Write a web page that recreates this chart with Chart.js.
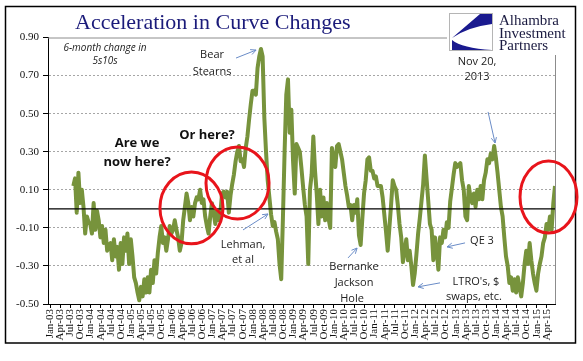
<!DOCTYPE html>
<html>
<head>
<meta charset="utf-8">
<script src="https://cdn.jsdelivr.net/npm/chart.js@4.4.1/dist/chart.umd.min.js"></script>
<style>
	html, body { margin: 0; padding: 0; background: #fff; }
	#wrap { width: 583px; height: 361px; position: relative; }
</style>
</head>
<body>
<div id="wrap"><canvas id="curve_chart" width="583" height="361"></canvas></div>
<script>
// quarter tick labels Jan-03 .. Apr-15
const months = ['Jan', 'Apr', 'Jul', 'Oct'];
const years = ['03','04','05','06','07','08','09','10','11','12','13','14','15'];
const quarterLabels = [];
years.forEach((y)=>{ months.forEach((m)=>{ if (quarterLabels.length < 50) quarterLabels.push(`${m}-${y}`) }) });

const yTicks = [-0.5, -0.3, -0.1, 0.1, 0.3, 0.5, 0.7, 0.9];

// 6-month change in 5s10s, semi-monthly readings from mid 2003
const firstQuarter = 2.3;      // position on the quarter axis of the first reading
const halfMonth = 1 / 6;       // one reading every half month
const spread2003 = [
	0.12, 0.16, -0.02, 0.19, 0.03, 0.10, 0.01, -0.13, -0.04, -0.07,
	-0.08, -0.13, 0.03, -0.11, -0.01, -0.06, -0.15, -0.09, -0.18, -0.11,
	-0.22, -0.19, -0.18, -0.27, -0.16, -0.25, -0.20, -0.32, -0.18, -0.29,
	-0.15, -0.22, -0.13, -0.29, -0.16, -0.25, -0.36, -0.39, -0.44, -0.48
];
const spread2005 = [
	-0.41, -0.46, -0.37, -0.44, -0.36, -0.44, -0.32, -0.39, -0.27, -0.34,
	-0.23, -0.15, -0.09, -0.18, -0.15, -0.22, -0.16, -0.09, -0.13, -0.11,
	-0.06, -0.11, -0.15, -0.22, -0.18, -0.06, 0.01, 0.08, 0.03, -0.06,
	0.01, -0.04, 0.03, 0.06, 0.05, 0.10, 0.03, 0.05, -0.04, -0.09,
	-0.13, -0.04, 0.03, -0.02, -0.08, -0.01, -0.06, -0.02
];
const spread2007 = [
	0.08, 0.09, 0.06, 0.09, -0.02, 0.07, 0.13, 0.18, 0.25, 0.30,
	0.33, 0.25, 0.26, 0.22, 0.32, 0.38, 0.47, 0.55, 0.62, 0.62,
	0.60, 0.74, 0.80, 0.84, 0.80, 0.48, 0.30, 0.15, 0.06, -0.03,
	-0.09, -0.07, -0.12, -0.16, -0.29, -0.37, -0.05, 0.30, 0.60, 0.68,
	0.40, 0.52, 0.25, 0.08, 0.34, 0.32, 0.30
];
const spread2009 = [
	0.21, 0.11, 0.02, -0.04, -0.29, 0.10, 0.18, 0.38, 0.20, 0.08,
	-0.08, 0.10, -0.04, 0.06, -0.06, 0.03, -0.05, -0.10, 0.32, 0.26,
	0.22, 0.33, 0.34, 0.30, 0.26, 0.19, 0.12, 0.07, 0.01, 0.02,
	-0.06, 0.02, -0.02, 0.05, -0.14, -0.19, -0.05, 0.08, 0.15, 0.26,
	0.27, 0.20, 0.20, 0.16, 0.17, 0.12, 0.12
];
const spread2011 = [
	0.12, 0.06, -0.03, -0.12, -0.22, -0.10, 0.02, 0.15, 0.12, 0.10,
	0.02, -0.08, -0.15, -0.28, -0.22, -0.16, -0.27, -0.22, -0.30, -0.40,
	-0.34, -0.24, -0.13, -0.05, 0.04, 0.13, 0.28, 0.16, 0.04, -0.08,
	-0.11, -0.27, -0.15, -0.22, -0.32, -0.15, -0.18, -0.11, -0.15, -0.07,
	-0.10, 0.04, 0.11, 0.18, 0.24, 0.22, 0.23
];
const spread2013 = [
	0.24, 0.15, 0.10, -0.04, -0.06, 0.12, 0.06, 0.03, 0.08, 0.01,
	0.10, 0.05, 0.12, 0.05, 0.15, 0.19, 0.26, 0.24, 0.29, 0.26,
	0.33, 0.27, 0.19, 0.10, 0.01, -0.04, -0.15, -0.25, -0.30,
	-0.39, -0.36, -0.43, -0.37, -0.44, -0.36, -0.41, -0.46, -0.39, -0.29,
	-0.22, -0.29, -0.18, -0.27, -0.34, -0.39, -0.43, -0.34, -0.29, -0.25,
	-0.18, -0.15, -0.08, -0.11, -0.04, -0.11, 0.03, 0.12
];
const spread = [].concat(spread2003, spread2005, spread2007, spread2009, spread2011, spread2013);

// notes placed in data units: [quarter, value]
const notes = [
	{ text: '6-month change in', at: [5.42, 0.845], font: 'italic 10px "Open Sans"' },
	{ text: '5s10s', at: [5.42, 0.777], font: 'italic 10px "Open Sans"' },
	{ text: 'Bear', at: [15.98, 0.808] },
	{ text: 'Stearns', at: [15.98, 0.719] },
	{ text: 'Nov 20,', at: [42.11, 0.771] },
	{ text: '2013', at: [42.11, 0.693] },
	{ text: 'Are we', at: [8.58, 0.346], font: 'bold 13px "Open Sans"' },
	{ text: 'now here?', at: [8.58, 0.246], font: 'bold 13px "Open Sans"' },
	{ text: 'Or here?', at: [15.48, 0.388], font: 'bold 13px "Open Sans"' },
	{ text: 'Lehman,', at: [19.03, -0.190] },
	{ text: 'et al', at: [19.03, -0.269] },
	{ text: 'Bernanke', at: [29.98, -0.305] },
	{ text: 'Jackson', at: [29.98, -0.389] },
	{ text: 'Hole', at: [29.78, -0.473] },
	{ text: 'QE 3', at: [42.60, -0.169] },
	{ text: "LTRO's, $", at: [42.01, -0.384] },
	{ text: 'swaps, etc.', at: [41.81, -0.463] }
];
const arrows = [
	[[18.34, 0.792], [20.32, 0.834]],
	[[43.20, 0.509], [43.89, 0.346]],
	[[19.03, -0.111], [21.50, -0.027]],
	[[29.39, -0.258], [30.28, -0.206]],
	[[40.93, -0.179], [39.15, -0.200]],
	[[38.46, -0.389], [36.29, -0.410]]
];
// red rings: centre [quarter, value], radius in quarters / value
const rings = [
	{ at: [13.95, 0.005], rq: 3.11, rv: 0.189 },
	{ at: [18.49, 0.136], rq: 3.11, rv: 0.189 },
	{ at: [49.16, 0.062], rq: 2.81, rv: 0.189 }
];

let decor = {
	id: 'decor',
	afterDatasetsDraw: function(chart){
		let c = chart.ctx, a = chart.chartArea;
		let y0 = chart.scales.y.getPixelForValue(0);
		c.save();
		c.strokeStyle = '#000';
		c.lineWidth = 1.3;
		c.beginPath(); c.moveTo(a.left, y0); c.lineTo(a.right, y0); c.stroke();
		// plot border top / right
		c.strokeStyle = '#8c8c8c';
		c.lineWidth = 1;
		c.beginPath();
		c.moveTo(a.left, a.top + 0.5); c.lineTo(a.right + 0.5, a.top + 0.5); c.lineTo(a.right + 0.5, a.bottom);
		c.stroke();
		c.restore();
	},
	afterDraw: function(chart){
		let c = chart.ctx;
		let sx = chart.scales.x, sy = chart.scales.y;
		let px = (p) => [sx.getPixelForValue(p[0]), sy.getPixelForValue(p[1])];
		c.save();
		// title
		c.fillStyle = '#1b1b7a';
		c.font = '22px "Liberation Serif"';
		c.textAlign = 'left';
		c.textBaseline = 'alphabetic';
		c.fillText('Acceleration in Curve Changes', 75, 29);
		// logo
		c.fillStyle = '#fff';
		c.fillRect(447, 9, 124, 46);
		c.strokeStyle = '#b5b5b5';
		c.lineWidth = 1;
		c.strokeRect(449.5, 13.5, 43, 37);
		c.fillStyle = '#1a1a8f';
		c.beginPath();
		c.moveTo(480, 14); c.lineTo(492, 14); c.lineTo(492, 24);
		c.quadraticCurveTo(468, 27, 452, 38);
		c.closePath(); c.fill();
		c.beginPath();
		c.moveTo(452, 40); c.quadraticCurveTo(462, 48, 492, 50);
		c.lineTo(452, 50); c.closePath(); c.fill();
		c.fillStyle = '#1a1a40';
		c.font = '15px "Liberation Serif"';
		c.fillText('Alhambra', 499, 25);
		c.fillText('Investment', 499, 37.5);
		c.fillText('Partners', 499, 50);
		// notes
		c.textAlign = 'center';
		c.textBaseline = 'middle';
		notes.forEach((n)=>{
			let p = px(n.at);
			c.font = n.font || '11px "Open Sans"';
			c.fillStyle = n.font && n.font.indexOf('bold') === 0 ? '#111' : '#222';
			c.fillText(n.text, p[0], p[1]);
		});
		// arrows
		c.strokeStyle = '#6a8cc7';
		c.lineWidth = 1;
		arrows.forEach((ar)=>{
			let p1 = px(ar[0]), p2 = px(ar[1]);
			let ang = Math.atan2(p2[1] - p1[1], p2[0] - p1[0]);
			c.beginPath(); c.moveTo(p1[0], p1[1]); c.lineTo(p2[0], p2[1]); c.stroke();
			c.beginPath();
			c.moveTo(p2[0] - 6 * Math.cos(ang - 0.45), p2[1] - 6 * Math.sin(ang - 0.45));
			c.lineTo(p2[0], p2[1]);
			c.lineTo(p2[0] - 6 * Math.cos(ang + 0.45), p2[1] - 6 * Math.sin(ang + 0.45));
			c.stroke();
		});
		// outer frame
		c.strokeStyle = '#000';
		c.lineWidth = 1.5;
		c.strokeRect(5.5, 6.5, 570, 336.5);
		// red rings
		c.strokeStyle = '#e8141b';
		c.lineWidth = 3;
		rings.forEach((r)=>{
			let p = px(r.at);
			let rx = sx.getPixelForValue(r.at[0] + r.rq) - p[0];
			let ry = p[1] - sy.getPixelForValue(r.at[1] + r.rv);
			c.beginPath(); c.ellipse(p[0], p[1], rx, ry, 0, 0, Math.PI * 2); c.stroke();
		});
		c.restore();
	}
};

window.onload = () => {
	let points = spread.map((v, i) => ({ x: firstQuarter + i * halfMonth, y: v }));
	new Chart('curve_chart', {
		type: 'line',
		data: {
			datasets: [{
				data: points,
				borderColor: '#77933c',
				borderWidth: 4,
				borderJoinStyle: 'round',
				pointRadius: 0,
				tension: 0,
				fill: false
			}]
		},
		options: {
			responsive: false,
			animation: false,
			layout: { padding: { left: 0, top: 37.5, right: 28, bottom: 0 } },
			plugins: { legend: { display: false }, tooltip: { enabled: false } },
			scales: {
				x: {
					type: 'linear',
					min: -0.2,
					max: 49.8,
					afterBuildTicks: (axis) => { axis.ticks = quarterLabels.map((l, i) => ({ value: i })) },
					afterFit: (axis) => { axis.height = 57 },
					ticks: {
						autoSkip: false,
						minRotation: 90,
						maxRotation: 90,
						padding: 1,
						color: '#111',
						font: { family: 'Liberation Serif', size: 11 },
						callback: (v) => quarterLabels[v]
					},
					grid: { drawOnChartArea: false, drawTicks: true, tickLength: 4, color: '#000' },
					border: { display: true, color: '#000', width: 1 }
				},
				y: {
					min: -0.5,
					max: 0.9,
					afterBuildTicks: (axis) => { axis.ticks = yTicks.map((v) => ({ value: v })) },
					afterFit: (axis) => { axis.width = 48 },
					ticks: {
						padding: 4,
						color: '#111',
						font: { family: 'Liberation Serif', size: 11 },
						callback: (v) => v.toFixed(2)
					},
					grid: {
						color: (ctx) => (ctx.tick && (ctx.tick.value === 0.9 || ctx.tick.value === -0.5)) ? 'rgba(0,0,0,0)' : '#a6a6a6',
						tickColor: '#000',
						tickLength: 5,
						lineWidth: 1
					},
					border: { display: true, color: '#000', width: 1, dash: [2, 2] }
				}
			}
		},
		plugins: [decor]
	});
};
</script>
</body>
</html>
